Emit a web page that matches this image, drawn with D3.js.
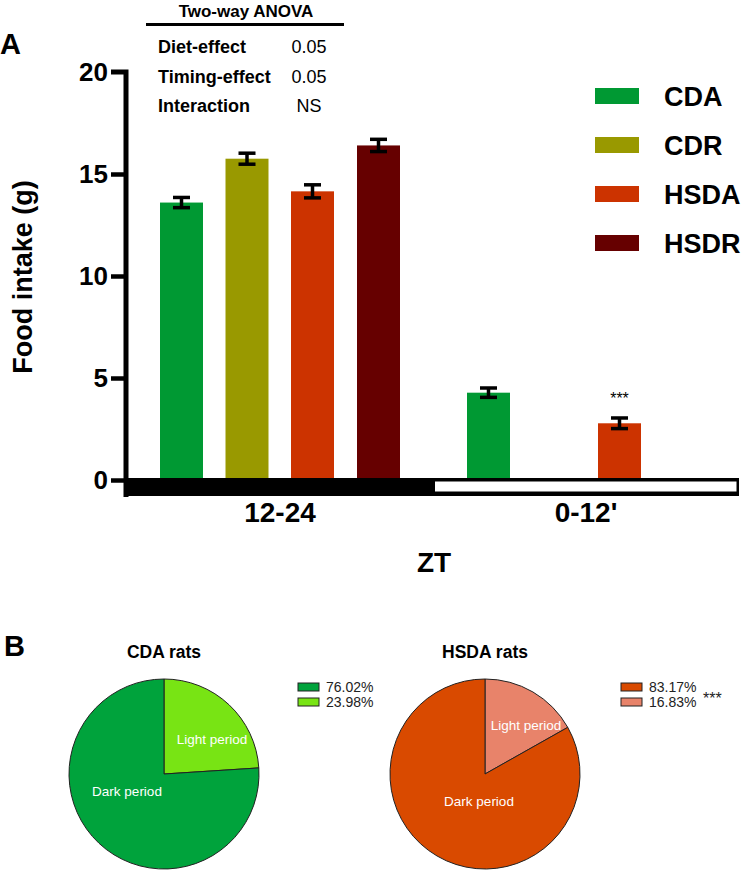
<!DOCTYPE html>
<html><head><meta charset="utf-8">
<script src="https://cdn.jsdelivr.net/npm/d3@7"></script>
<style>body{margin:0;background:#fff}svg{display:block;font-family:Arial,"Liberation Sans",sans-serif}</style>
</head><body><svg id="c" width="742" height="872"></svg>
<script>
const periods = ["12-24", "0-12'"];
const groups = ["CDA", "CDR", "HSDA", "HSDR"];
const groupColors = ["#009933", "#999900", "#CC3300", "#660000"];
const darkMeans = [13.6, 15.75, 14.15, 16.4];
const darkErr = [0.25, 0.27, 0.32, 0.3];
const lightMeans = [4.28, null, 2.78, null];
const lightErr = [0.23, null, 0.26, null];
const yTicks = [0, 5, 10, 15, 20];
const anovaRows = ["Diet-effect", "Timing-effect", "Interaction"];
const anovaVals = ["0.05", "0.05", "NS"];
const pieTitles = ["CDA rats", "HSDA rats"];
const pieLabels = ["Dark period", "Light period"];
const cdaPie = [76.02, 23.98];
const hsdaPie = [83.17, 16.83];
const cdaColors = ["#00A33C", "#78E414"];
const hsdaColors = ["#D94A00", "#E8836A"];

const svg = d3.select("#c");

// Panel A
const y = d3.scaleLinear().domain([0, 20]).range([480, 72]);
const bw = 43;
const xs = d3.scaleOrdinal().domain(d3.range(8)).range([160, 225.5, 291, 357, 467, 532.5, 598, 664]);

const barData = [];
groups.forEach((g, i) => barData.push({g: i, v: darkMeans[i], e: darkErr[i], slot: i}));
groups.forEach((g, i) => { if (lightMeans[i] != null) barData.push({g: i, v: lightMeans[i], e: lightErr[i], slot: 4 + i}); });

svg.append("g").selectAll("rect").data(barData).join("rect")
  .attr("x", d => xs(d.slot)).attr("width", bw)
  .attr("y", d => y(d.v)).attr("height", d => y(0) - y(d.v))
  .attr("fill", d => groupColors[d.g]);

const eb = svg.append("g").attr("stroke", "#000").attr("stroke-width", 3.5);
barData.forEach(d => {
  const cx = xs(d.slot) + bw / 2;
  eb.append("line").attr("x1", cx).attr("x2", cx).attr("y1", y(d.v + d.e)).attr("y2", y(d.v - d.e));
  eb.append("line").attr("x1", cx - 8.5).attr("x2", cx + 8.5).attr("y1", y(d.v + d.e)).attr("y2", y(d.v + d.e));
  eb.append("line").attr("x1", cx - 8.5).attr("x2", cx + 8.5).attr("y1", y(d.v - d.e)).attr("y2", y(d.v - d.e));
});

// Y axis
const yAxis = svg.append("g").attr("transform", "translate(126,0)")
  .call(d3.axisLeft(y).tickValues(yTicks).tickSize(15).tickPadding(3).tickSizeOuter(0));
yAxis.select(".domain").attr("stroke-width", 5).attr("d", `M-15,${y(20)}H0V${y(0)+17}`);
yAxis.selectAll(".tick line").attr("stroke-width", 4.5);
yAxis.selectAll(".tick text").attr("font-size", 26).attr("font-weight", "bold").attr("fill", "#000")
  .attr("font-family", "Arial, Liberation Sans, sans-serif");
yAxis.select(".tick:last-of-type line").remove();

// dark/light band
svg.append("rect").attr("x", 124).attr("y", 478).attr("width", 615).attr("height", 18).attr("fill", "#000");
svg.append("rect").attr("x", 435).attr("y", 481.5).attr("width", 301.5).attr("height", 10).attr("fill", "#fff");

// category labels
const catX = d3.scalePoint().domain(periods).range([280, 586]);
svg.append("g").selectAll("text").data(periods).join("text")
  .attr("x", d => catX(d)).attr("y", 522).attr("text-anchor", "middle")
  .attr("font-size", 28).attr("font-weight", "bold").text(d => d);
svg.append("text").attr("x", 434).attr("y", 572).attr("text-anchor", "middle")
  .attr("font-size", 28).attr("font-weight", "bold").text("ZT");
svg.append("text").attr("transform", "translate(32,277) rotate(-90)").attr("text-anchor", "middle")
  .attr("font-size", 27).attr("font-weight", "bold").text("Food intake (g)");

// stars
svg.append("text").attr("x", xs(6) + bw / 2).attr("y", 404).attr("text-anchor", "middle")
  .attr("font-size", 16).text("***");

// Legend
const leg = svg.append("g");
groups.forEach((g, i) => {
  leg.append("rect").attr("x", 595).attr("y", 88 + i * 49).attr("width", 44).attr("height", 16).attr("fill", groupColors[i]);
  leg.append("text").attr("x", 664).attr("y", 106 + i * 49).attr("font-size", 27).attr("font-weight", "bold").text(g);
});

// Letters
svg.append("text").attr("x", 0).attr("y", 54).attr("font-size", 29).attr("font-weight", "bold").text("A");
svg.append("text").attr("x", 4).attr("y", 656).attr("font-size", 29).attr("font-weight", "bold").text("B");

// ANOVA table
svg.append("text").attr("x", 246).attr("y", 17).attr("text-anchor", "middle").attr("font-size", 17).attr("font-weight", "bold").text("Two-way ANOVA");
svg.append("line").attr("x1", 146).attr("x2", 344).attr("y1", 24.5).attr("y2", 24.5).attr("stroke", "#000").attr("stroke-width", 3);
anovaRows.forEach((r, i) => {
  svg.append("text").attr("x", 158).attr("y", 53 + i * 29.5).attr("font-size", 18).attr("font-weight", "bold").text(r);
  svg.append("text").attr("x", 309).attr("y", 53 + i * 29.5).attr("text-anchor", "middle").attr("font-size", 18).text(anovaVals[i]);
});

// Pies
function drawPie(cx, cy, title, vals, cols, legX, labelPos, stars) {
  const g = svg.append("g").attr("transform", `translate(${cx},${cy})`);
  const pie = d3.pie().sort(null).value(d => d).startAngle(0).endAngle(2 * Math.PI);
  const arcs = pie([vals[1], vals[0]]);
  const arc = d3.arc().innerRadius(0).outerRadius(95);
  g.selectAll("path").data(arcs).join("path").attr("d", arc)
    .attr("fill", (d, i) => i === 0 ? cols[1] : cols[0]).attr("stroke", "#222").attr("stroke-width", 1);
  g.append("text").attr("x", labelPos[1][0]).attr("y", labelPos[1][1]).attr("text-anchor", "middle").attr("dominant-baseline", "middle")
    .attr("font-size", 13.5).attr("fill", "#fff").text(pieLabels[1]);
  g.append("text").attr("x", labelPos[0][0]).attr("y", labelPos[0][1]).attr("text-anchor", "middle").attr("dominant-baseline", "middle")
    .attr("font-size", 13.5).attr("fill", "#fff").text(pieLabels[0]);
  svg.append("text").attr("x", cx).attr("y", 658).attr("text-anchor", "middle").attr("font-size", 17.5).attr("font-weight", "bold").text(title);
  vals.forEach((v, i) => {
    svg.append("rect").attr("x", legX).attr("y", 683 + i * 15).attr("width", 21).attr("height", 8)
      .attr("fill", cols[i]).attr("stroke", "#222").attr("stroke-width", 1);
    svg.append("text").attr("x", legX + 28).attr("y", 692 + i * 15).attr("font-size", 14).attr("fill", "#222").text(v.toFixed(2) + "%");
  });
  if (stars) svg.append("text").attr("x", legX + 82).attr("y", 704).attr("font-size", 16).attr("fill", "#222").text("***");
}
drawPie(164, 774, pieTitles[0], cdaPie, cdaColors, 298, [[-37, 18], [48, -34]], false);
drawPie(485, 774, pieTitles[1], hsdaPie, hsdaColors, 621, [[-6, 28], [41, -48]], true);
</script>
</body></html>
